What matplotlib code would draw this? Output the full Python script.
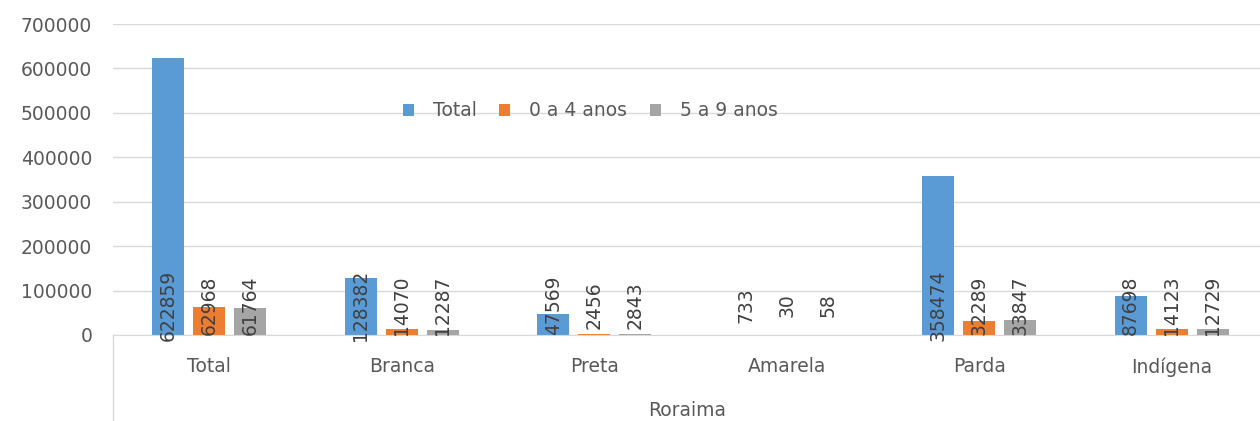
import matplotlib
matplotlib.use("Agg")
import matplotlib.pyplot as plt
import numpy as np

categories = ["Total", "Branca", "Preta", "Amarela", "Parda", "Indígena"]
series_names = ["Total", "0 a 4 anos", "5 a 9 anos"]
total = [622859, 128382, 47569, 733, 358474, 87698]
age_0_4 = [62968, 14070, 2456, 30, 32289, 14123]
age_5_9 = [61764, 12287, 2843, 58, 33847, 12729]
yticks = [0, 100000, 200000, 300000, 400000, 500000, 600000, 700000]
group_label = "Roraima"

colors = ["#5B9BD5", "#ED7D31", "#A5A5A5"]
text_color = "#595959"
plt.rcParams["font.family"] = ["DejaVu Sans"]

W, H = 1260, 421
fig = plt.figure(figsize=(W / 100, H / 100), dpi=100)
ax = fig.add_axes([113 / W, 1 - 335 / H, (1268 - 113) / W, (335 - 24) / H])

x = np.arange(len(categories))
width = 0.166
step = 0.213
for i, (name, vals) in enumerate(zip(series_names, [total, age_0_4, age_5_9])):
    pos = x + (i - 1) * step
    ax.bar(pos, vals, width=width, color=colors[i], label=name, zorder=2)
    for px, v in zip(pos, vals):
        ax.annotate(str(v), (px, 0), xytext=(0, 30), textcoords="offset pixels",
                    rotation=90, ha="center", va="center", fontsize=13.5,
                    color="#404040", zorder=3)

ax.set_xlim(-0.5, len(categories) - 0.5)
ax.set_ylim(0, 700000)
ax.set_yticks(yticks)
ax.set_yticklabels([str(t) for t in yticks])
ax.yaxis.grid(True, color="#d9d9d9", linewidth=1, zorder=0)
ax.set_axisbelow(True)
ax.tick_params(axis="y", length=0, pad=15, labelsize=13.5, labelcolor=text_color)
ax.set_xticks(x)
ax.set_xticklabels(categories)
ax.tick_params(axis="x", length=0, pad=16, labelsize=13.5, labelcolor=text_color)
for s in ["top", "right", "left"]:
    ax.spines[s].set_visible(False)
ax.spines["bottom"].set_color("#d9d9d9")

# category axis frame line and group label
fig.add_artist(plt.Line2D([113 / W, 113 / W], [0, 1 - 335 / H], color="#d9d9d9", linewidth=1))
fig.text(687 / W, 1 - 410 / H, group_label, ha="center", va="center", fontsize=13.5, color=text_color)

ax.legend(loc="center", bbox_to_anchor=(590 / W, 1 - 111 / H), bbox_transform=fig.transFigure,
          ncol=3, frameon=False, fontsize=13.5, labelcolor=text_color,
          handlelength=0.6, handleheight=0.6, handletextpad=1.0, columnspacing=1.2)

fig.savefig("out.png", dpi=100)
